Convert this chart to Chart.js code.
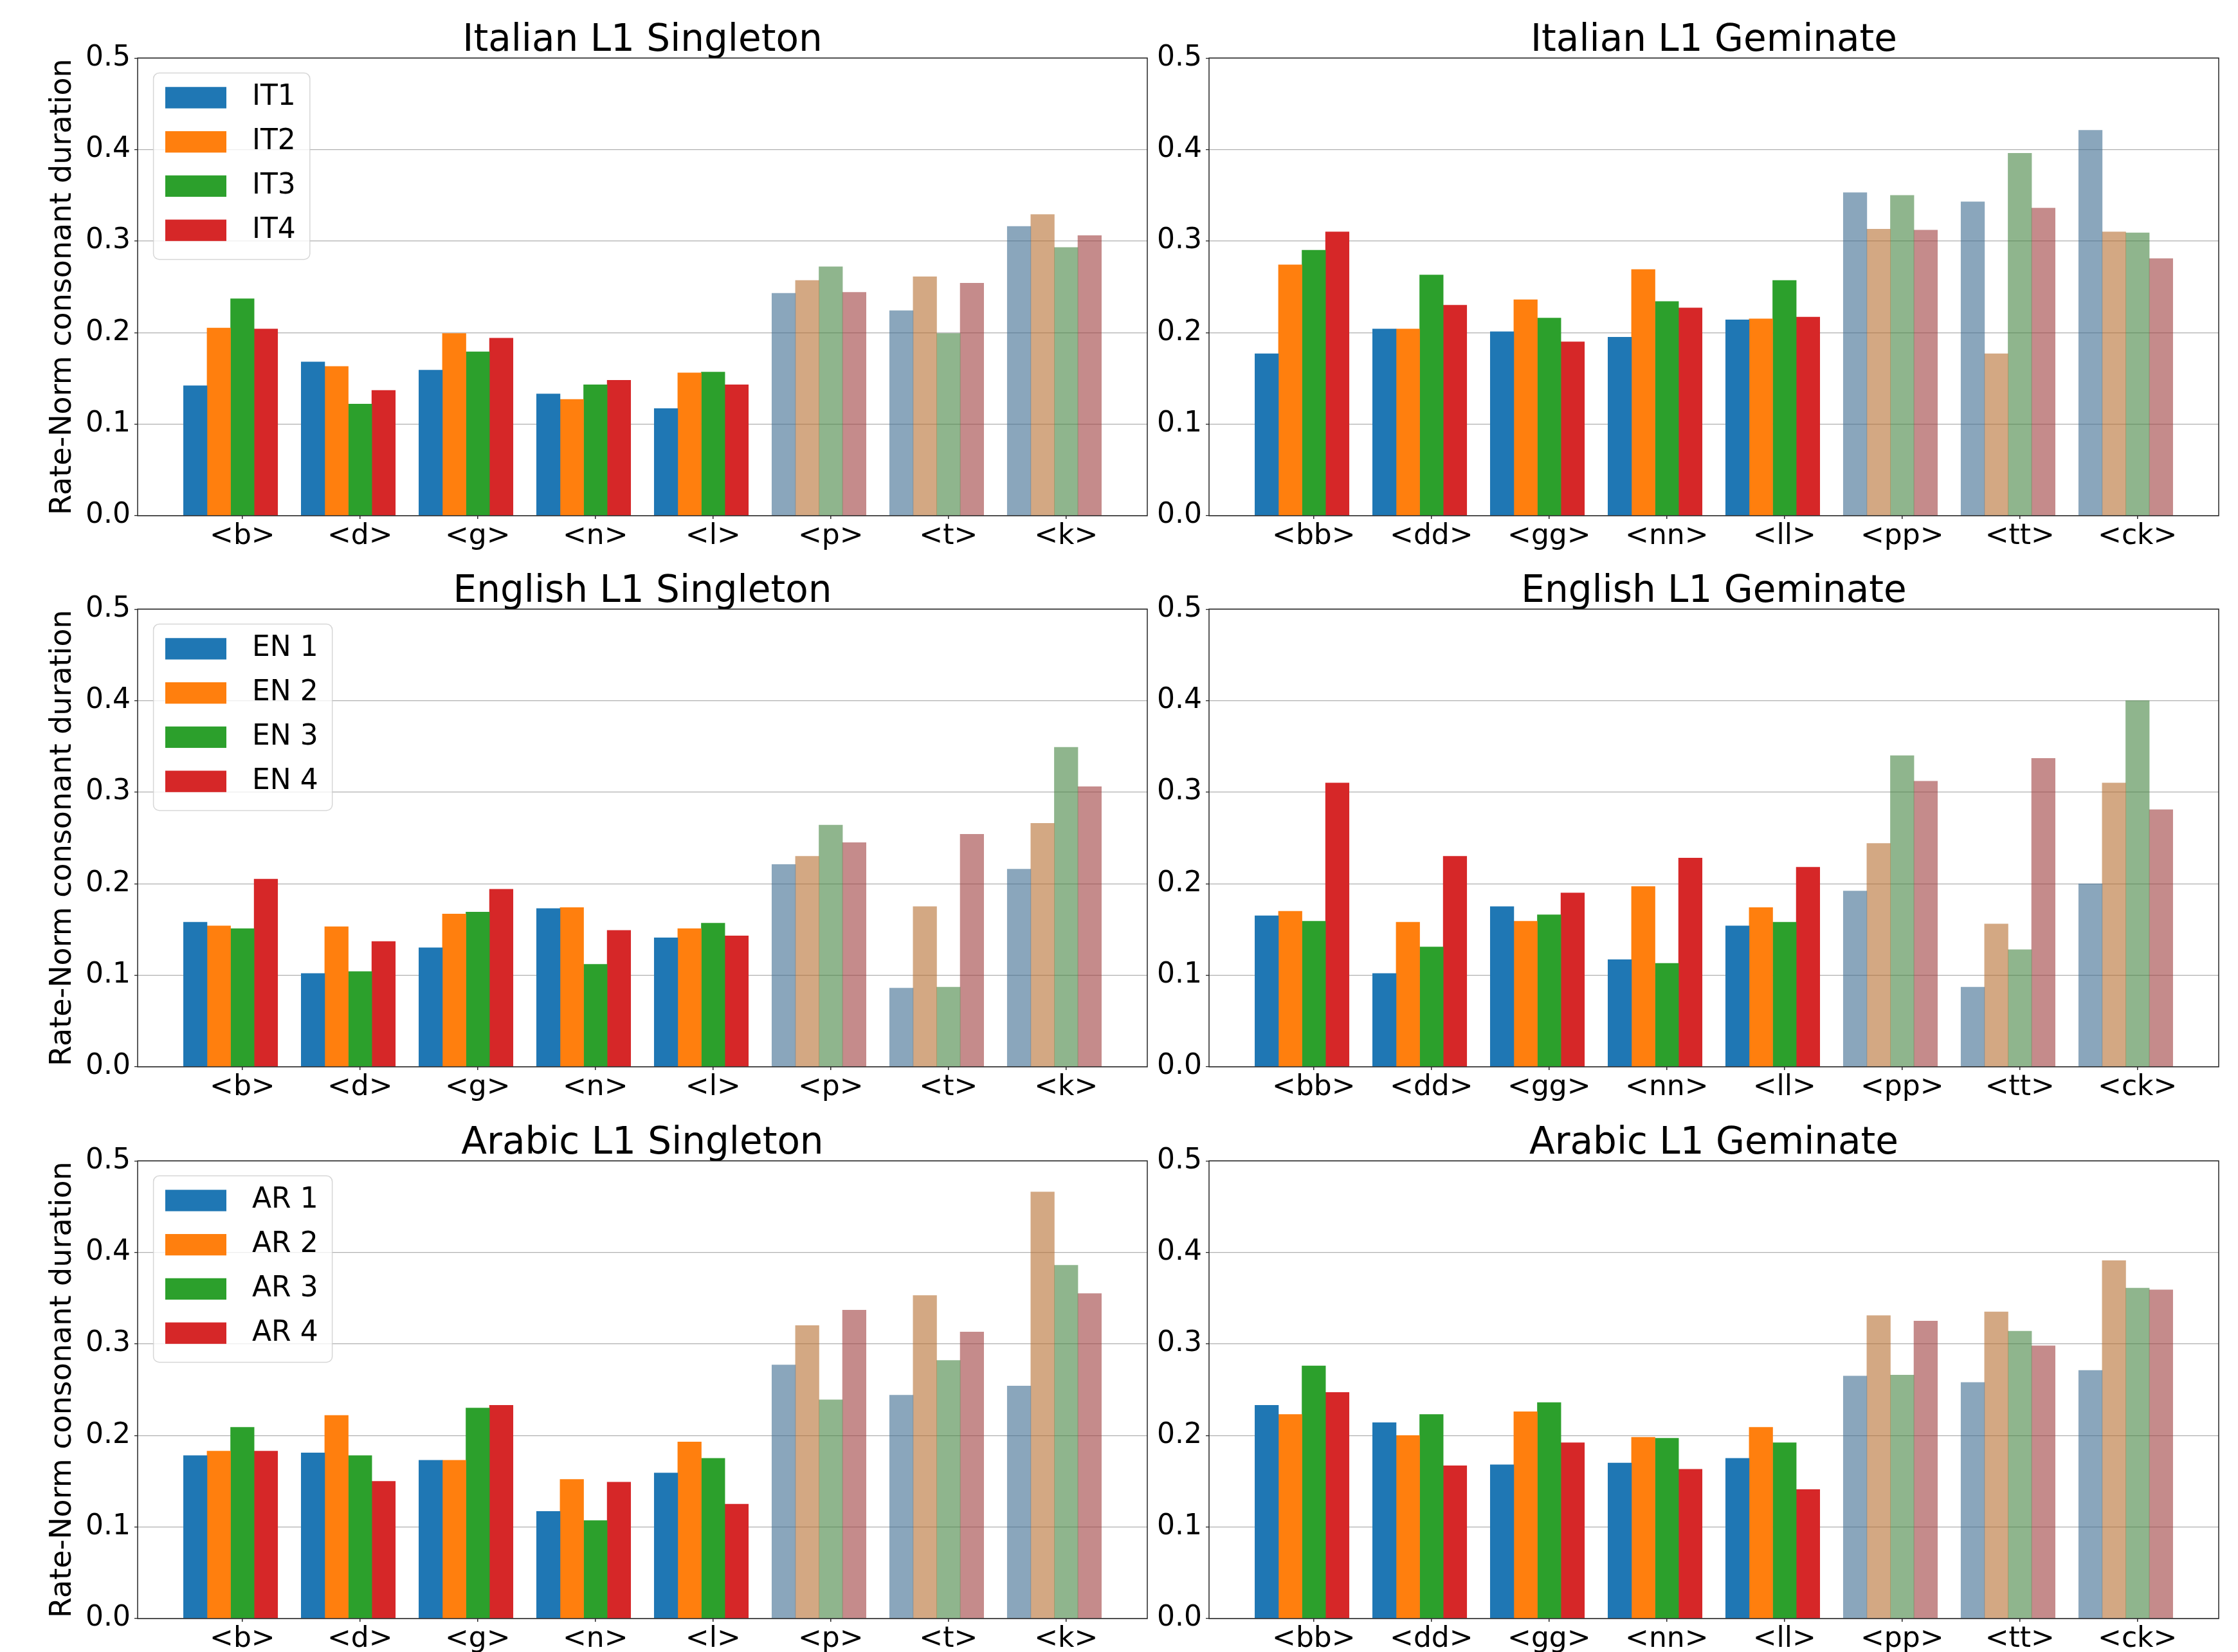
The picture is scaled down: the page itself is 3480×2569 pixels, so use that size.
<!DOCTYPE html>
<html>
<head>
<meta charset="utf-8">
<script src="https://cdn.jsdelivr.net/npm/chart.js@4.4.1/dist/chart.umd.min.js"></script>
<style>
  html, body { margin: 0; padding: 0; background: #ffffff; width: 3480px; height: 2569px; overflow: hidden; }
  canvas { position: absolute; }
</style>
</head>
<body>
<script>
// ---------------- DATA ----------------
const singletonLabels = ['<b>', '<d>', '<g>', '<n>', '<l>', '<p>', '<t>', '<k>'];
const geminateLabels  = ['<bb>', '<dd>', '<gg>', '<nn>', '<ll>', '<pp>', '<tt>', '<ck>'];

const itSpeakers = ['IT1', 'IT2', 'IT3', 'IT4'];
const enSpeakers = ['EN 1', 'EN 2', 'EN 3', 'EN 4'];
const arSpeakers = ['AR 1', 'AR 2', 'AR 3', 'AR 4'];

const yTickValues = [0.0, 0.1, 0.2, 0.3, 0.4, 0.5];
const yTickLabels = ['0.0', '0.1', '0.2', '0.3', '0.4', '0.5'];

// Italian L1 Singleton
const it1Sing = [0.142, 0.168, 0.159, 0.133, 0.117, 0.243, 0.224, 0.316];
const it2Sing = [0.205, 0.163, 0.199, 0.127, 0.156, 0.257, 0.261, 0.329];
const it3Sing = [0.237, 0.122, 0.179, 0.143, 0.157, 0.272, 0.199, 0.293];
const it4Sing = [0.204, 0.137, 0.194, 0.148, 0.143, 0.244, 0.254, 0.306];
// Italian L1 Geminate
const it1Gem = [0.177, 0.204, 0.201, 0.195, 0.214, 0.353, 0.343, 0.421];
const it2Gem = [0.274, 0.204, 0.236, 0.269, 0.215, 0.313, 0.177, 0.310];
const it3Gem = [0.290, 0.263, 0.216, 0.234, 0.257, 0.350, 0.396, 0.309];
const it4Gem = [0.310, 0.230, 0.190, 0.227, 0.217, 0.312, 0.336, 0.281];
// English L1 Singleton
const en1Sing = [0.158, 0.102, 0.130, 0.173, 0.141, 0.221, 0.086, 0.216];
const en2Sing = [0.154, 0.153, 0.167, 0.174, 0.151, 0.230, 0.175, 0.266];
const en3Sing = [0.151, 0.104, 0.169, 0.112, 0.157, 0.264, 0.087, 0.349];
const en4Sing = [0.205, 0.137, 0.194, 0.149, 0.143, 0.245, 0.254, 0.306];
// English L1 Geminate
const en1Gem = [0.165, 0.102, 0.175, 0.117, 0.154, 0.192, 0.087, 0.200];
const en2Gem = [0.170, 0.158, 0.159, 0.197, 0.174, 0.244, 0.156, 0.310];
const en3Gem = [0.159, 0.131, 0.166, 0.113, 0.158, 0.340, 0.128, 0.400];
const en4Gem = [0.310, 0.230, 0.190, 0.228, 0.218, 0.312, 0.337, 0.281];
// Arabic L1 Singleton
const ar1Sing = [0.178, 0.181, 0.173, 0.117, 0.159, 0.277, 0.244, 0.254];
const ar2Sing = [0.183, 0.222, 0.173, 0.152, 0.193, 0.320, 0.353, 0.466];
const ar3Sing = [0.209, 0.178, 0.230, 0.107, 0.175, 0.239, 0.282, 0.386];
const ar4Sing = [0.183, 0.150, 0.233, 0.149, 0.125, 0.337, 0.313, 0.355];
// Arabic L1 Geminate
const ar1Gem = [0.233, 0.214, 0.168, 0.170, 0.175, 0.265, 0.258, 0.271];
const ar2Gem = [0.223, 0.200, 0.226, 0.198, 0.209, 0.331, 0.335, 0.391];
const ar3Gem = [0.276, 0.223, 0.236, 0.197, 0.192, 0.266, 0.314, 0.361];
const ar4Gem = [0.247, 0.167, 0.192, 0.163, 0.141, 0.325, 0.298, 0.359];

const yAxisTitle = 'Rate-Norm consonant duration';

// ---------------- STYLE ----------------
const FONT = '"DejaVu Sans", "Liberation Sans", sans-serif';
const solidColors = ['#1f77b4', '#ff7f0e', '#2ca02c', '#d62728'];
const fadedColors = ['rgba(60,107,143,0.6)', 'rgba(182,110,48,0.6)', 'rgba(68,132,65,0.6)', 'rgba(158,62,62,0.6)'];
const FADED_FROM = 5; // voiceless categories drawn faded

const panels = [
  { title: 'Italian L1 Singleton', cats: singletonLabels, speakers: itSpeakers, series: [it1Sing, it2Sing, it3Sing, it4Sing], row: 0, col: 0 },
  { title: 'Italian L1 Geminate',  cats: geminateLabels,  speakers: itSpeakers, series: [it1Gem, it2Gem, it3Gem, it4Gem], row: 0, col: 1 },
  { title: 'English L1 Singleton', cats: singletonLabels, speakers: enSpeakers, series: [en1Sing, en2Sing, en3Sing, en4Sing], row: 1, col: 0 },
  { title: 'English L1 Geminate',  cats: geminateLabels,  speakers: enSpeakers, series: [en1Gem, en2Gem, en3Gem, en4Gem], row: 1, col: 1 },
  { title: 'Arabic L1 Singleton',  cats: singletonLabels, speakers: arSpeakers, series: [ar1Sing, ar2Sing, ar3Sing, ar4Sing], row: 2, col: 0 },
  { title: 'Arabic L1 Geminate',   cats: geminateLabels,  speakers: arSpeakers, series: [ar1Gem, ar2Gem, ar3Gem, ar4Gem], row: 2, col: 1 },
];

const colLayout = [
  { left: 0,    width: 1800, padRight: 16, yWidth: 214 },
  { left: 1800, width: 1680, padRight: 30, yWidth: 80 },
];
const rowTops = [0, 857, 1715];
const CANVAS_H = 900;
const X_AXIS_H = 84;
const PAD_BOTTOM = 14;

// ---------------- PLUGINS ----------------
const spinesPlugin = {
  id: 'spines',
  afterDraw(chart) {
    const { ctx, chartArea: a } = chart;
    ctx.save();
    ctx.strokeStyle = '#262626';
    ctx.lineWidth = 1.5;
    ctx.strokeRect(a.left, a.top, a.right - a.left, a.bottom - a.top);
    ctx.restore();
  }
};

const insideLegendPlugin = {
  id: 'insideLegend',
  afterDraw(chart, args, opts) {
    if (!opts.show) return;
    const { ctx, chartArea: a } = chart;
    const items = chart.data.datasets.filter(d => d.label);
    ctx.save();
    ctx.font = '44px ' + FONT;
    const tw = Math.max(...items.map(d => ctx.measureText(d.label).width));
    const x0 = a.left + 24.6, y0 = a.top + 23.3;
    const rowGap = 68.75, firstOff = 38.4, lastOff = 45.3;
    const hx = 18.4, hw = 95, hh = 33.3, tgap = 40;
    const w = hx + hw + tgap + tw + 22;
    const h = firstOff + rowGap * (items.length - 1) + lastOff;
    const r = 9;
    ctx.beginPath();
    ctx.moveTo(x0 + r, y0);
    ctx.lineTo(x0 + w - r, y0);
    ctx.arcTo(x0 + w, y0, x0 + w, y0 + r, r);
    ctx.lineTo(x0 + w, y0 + h - r);
    ctx.arcTo(x0 + w, y0 + h, x0 + w - r, y0 + h, r);
    ctx.lineTo(x0 + r, y0 + h);
    ctx.arcTo(x0, y0 + h, x0, y0 + h - r, r);
    ctx.lineTo(x0, y0 + r);
    ctx.arcTo(x0, y0, x0 + r, y0, r);
    ctx.closePath();
    ctx.fillStyle = 'rgba(255,255,255,0.8)';
    ctx.fill();
    ctx.strokeStyle = 'rgba(204,204,204,0.8)';
    ctx.lineWidth = 1.5;
    ctx.stroke();
    items.forEach((d, i) => {
      const cy = y0 + firstOff + i * rowGap;
      ctx.fillStyle = solidColors[i];
      ctx.fillRect(x0 + hx, cy - hh / 2, hw, hh);
      ctx.fillStyle = '#000000';
      ctx.textBaseline = 'middle';
      ctx.textAlign = 'left';
      ctx.fillText(d.label, x0 + hx + hw + tgap, cy);
    });
    ctx.restore();
  }
};

// ---------------- CHARTS ----------------
function makePanel(p) {
  const col = colLayout[p.col];
  const c = document.createElement('canvas');
  c.width = col.width;
  c.height = CANVAS_H;
  c.style.left = col.left + 'px';
  c.style.top = rowTops[p.row] + 'px';
  c.style.width = col.width + 'px';
  c.style.height = CANVAS_H + 'px';
  document.body.appendChild(c);

  const datasets = p.series.map((vals, i) => ({
    label: p.speakers[i],
    data: vals.map((v, j) => ({ x: j, y: v })),
    backgroundColor: (ctx) => (ctx.dataIndex >= FADED_FROM ? fadedColors[i] : solidColors[i]),
    borderWidth: 0,
    categoryPercentage: 1.0,
    barPercentage: 1.0,
  }));
  // empty slot so that the four bars sit as matplotlib placed them (3rd bar on the tick)
  datasets.push({ label: '', data: [], backgroundColor: 'rgba(0,0,0,0)', borderWidth: 0, categoryPercentage: 1.0, barPercentage: 1.0 });

  new Chart(c, {
    type: 'bar',
    data: { datasets },
    plugins: [spinesPlugin, insideLegendPlugin],
    options: {
      responsive: false,
      animation: false,
      devicePixelRatio: 1,
      layout: { padding: { left: 0, right: col.padRight, top: 0, bottom: PAD_BOTTOM } },
      plugins: {
        legend: { display: false },
        tooltip: { enabled: false },
        title: {
          display: true,
          text: p.title,
          fullSize: false,
          color: '#000000',
          font: { family: FONT, size: 58, weight: 'normal', lineHeight: 0.9 },
          padding: { top: 38, bottom: 0 },
        },
        insideLegend: { show: p.col === 0 },
      },
      scales: {
        x: {
          type: 'linear',
          bounds: 'data',
          min: -0.89,
          max: 7.69,
          offset: false,
          afterBuildTicks: (s) => { s.ticks = p.cats.map((_, i) => ({ value: i })); },
          afterFit: (s) => { s.height = X_AXIS_H; },
          ticks: {
            autoSkip: false,
            maxRotation: 0,
            minRotation: 0,
            padding: 1,
            color: '#000000',
            font: { family: FONT, size: 44 },
            callback: (v) => p.cats[v],
          },
          grid: { display: true, drawOnChartArea: false, drawTicks: true, tickLength: 5, tickColor: '#262626', lineWidth: 1.5, offset: false },
          border: { display: false },
        },
        y: {
          min: 0,
          max: 0.5,
          bounds: 'data',
          afterBuildTicks: (s) => { s.ticks = yTickValues.map(v => ({ value: v })); },
          afterFit: (s) => { s.width = col.yWidth; },
          ticks: {
            padding: 6,
            color: '#000000',
            font: { family: FONT, size: 44 },
            callback: (v, i) => yTickLabels[i],
          },
          grid: { color: '#b0b0b0', lineWidth: 1.3, tickLength: 5, tickColor: '#262626' },
          border: { display: false },
          title: {
            display: p.col === 0,
            text: yAxisTitle,
            color: '#000000',
            font: { family: FONT, size: 46, weight: 'normal', lineHeight: 1.2 },
            padding: { top: 70, bottom: 0 },
          },
        },
      },
    },
  });
}

panels.forEach(makePanel);
</script>
</body>
</html>
